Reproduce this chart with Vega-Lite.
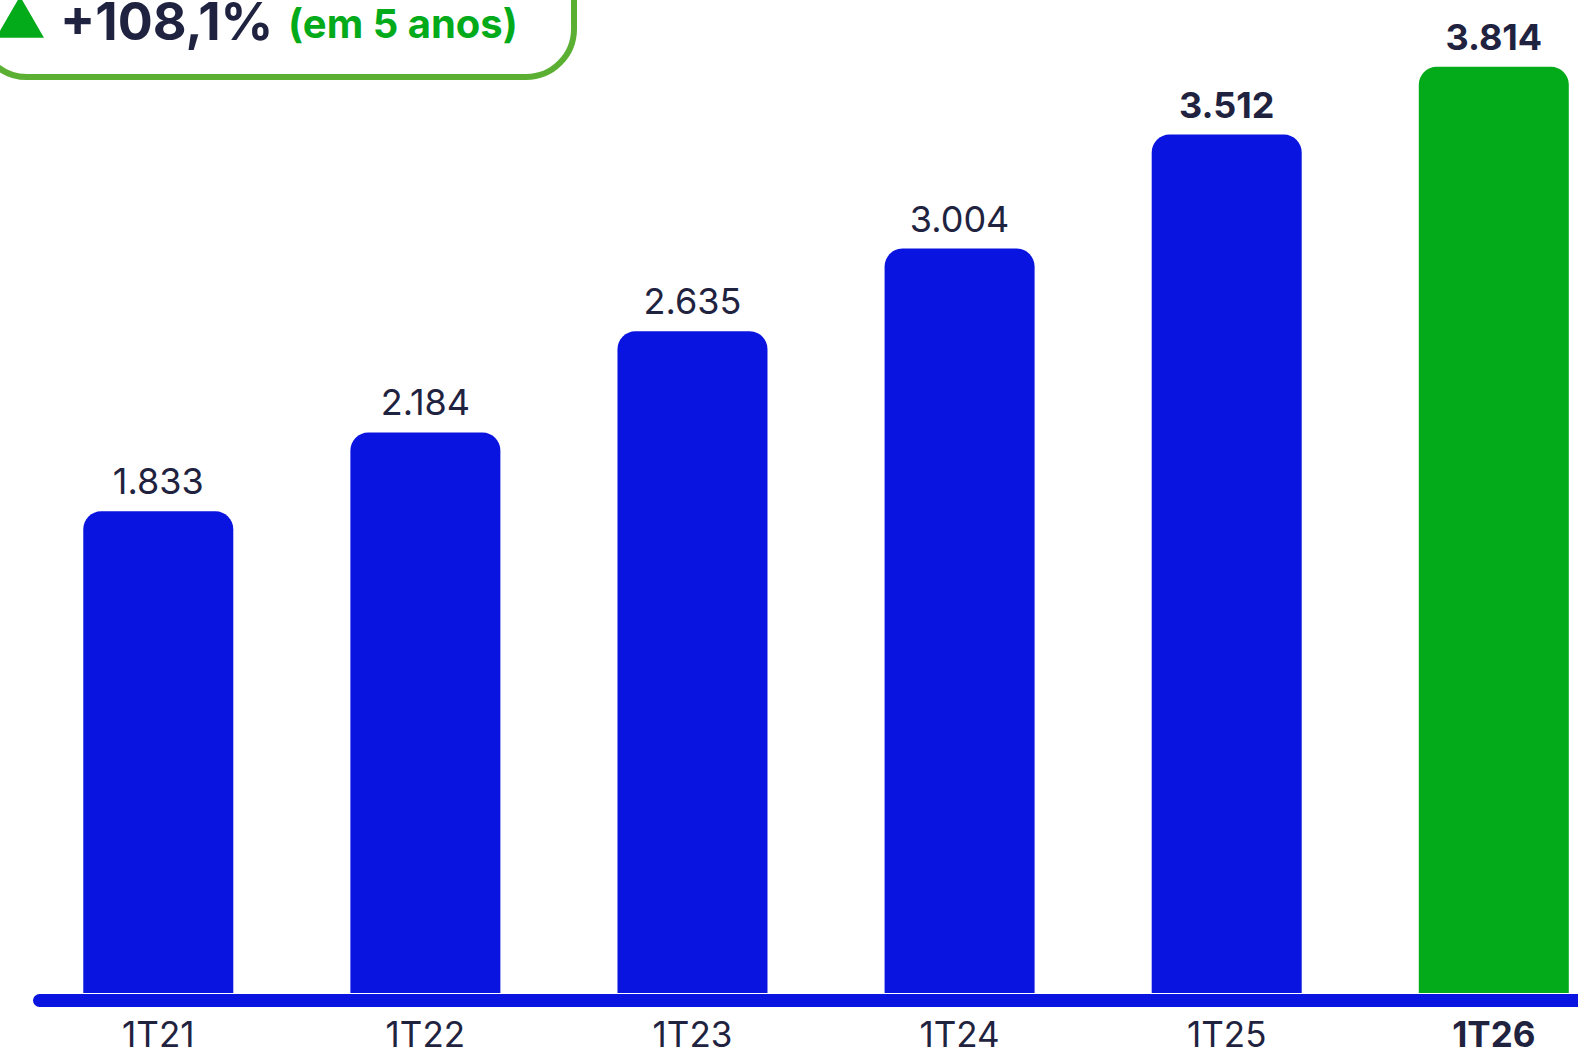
{
  "$schema": "https://vega.github.io/schema/vega-lite/v6.json",
  "width": 1539,
  "height": 993,
  "autosize": "none",
  "padding": {"left": 39, "top": 0, "right": 0, "bottom": 60},
  "config": {"view": {"stroke": null}, "font": "Inter"},
  "data": {"values": [
    {"periodo": "1T21", "valor": 1833, "rotulo": "1.833"},
    {"periodo": "1T22", "valor": 2184, "rotulo": "2.184"},
    {"periodo": "1T23", "valor": 2635, "rotulo": "2.635"},
    {"periodo": "1T24", "valor": 3004, "rotulo": "3.004"},
    {"periodo": "1T25", "valor": 3512, "rotulo": "3.512"},
    {"periodo": "1T26", "valor": 3814, "rotulo": "3.814"}
  ]},
  "encoding": {
    "x": {
      "field": "periodo", "type": "nominal", "sort": null,
      "scale": {"paddingInner": 0.4384, "paddingOuter": 0.1001, "align": 0.828},
      "axis": {
        "title": null, "labelAngle": 0, "ticks": false, "tickSize": 0,
        "domainColor": "#0a14e0", "domainWidth": 13, "domainCap": "round",
        "offset": 7, "labelPadding": 18, "labelFontSize": 35, "labelColor": "#1f2340",
        "labelFont": "Inter",
        "labelFontWeight": {"condition": {"test": "datum.value === '1T26'", "value": "bold"}, "value": "normal"}
      }
    },
    "y": {
      "field": "valor", "type": "quantitative",
      "scale": {"domain": [-315, 4112], "zero": false, "nice": false},
      "axis": null
    }
  },
  "layer": [
    {
      "mark": {"type": "bar", "cornerRadiusTopLeft": 18, "cornerRadiusTopRight": 18},
      "encoding": {
        "y2": {"datum": -315},
        "color": {"condition": {"test": "datum.periodo === '1T26'", "value": "#03aa1a"}, "value": "#0a14e0"}
      }
    },
    {
      "transform": [{"filter": "datum.valor < 3500"}],
      "mark": {"type": "text", "baseline": "alphabetic", "dy": -17, "fontSize": 36, "fontWeight": "normal", "color": "#1f2340"},
      "encoding": {"text": {"field": "rotulo"}}
    },
    {
      "transform": [{"filter": "datum.valor > 3500"}],
      "mark": {"type": "text", "baseline": "alphabetic", "dy": -17, "fontSize": 36, "fontWeight": "bold", "color": "#1f2340"},
      "encoding": {"text": {"field": "rotulo"}}
    },
    {
      "data": {"values": [{}]},
      "mark": {"type": "rect", "fill": "white", "stroke": "#5bb033", "strokeWidth": 6, "cornerRadius": 48},
      "encoding": {"x": {"value": -60}, "x2": {"value": 535}, "y": {"value": -60}, "y2": {"value": 77}}
    },
    {
      "data": {"values": [{}]},
      "mark": {"type": "point", "shape": "triangle-up", "filled": true, "color": "#03aa1a", "size": 2300, "opacity": 1},
      "encoding": {"x": {"value": -19}, "y": {"value": 17}}
    },
    {
      "data": {"values": [{}]},
      "mark": {"type": "text", "text": "+108,1%", "align": "left", "baseline": "alphabetic", "fontSize": 52, "fontWeight": "bold", "color": "#1f2340"},
      "encoding": {"x": {"value": 21}, "y": {"value": 40}}
    },
    {
      "data": {"values": [{}]},
      "mark": {"type": "text", "text": "(em 5 anos)", "align": "left", "baseline": "alphabetic", "fontSize": 40, "fontWeight": "bold", "color": "#03aa1a"},
      "encoding": {"x": {"value": 249}, "y": {"value": 38}}
    }
  ]
}
